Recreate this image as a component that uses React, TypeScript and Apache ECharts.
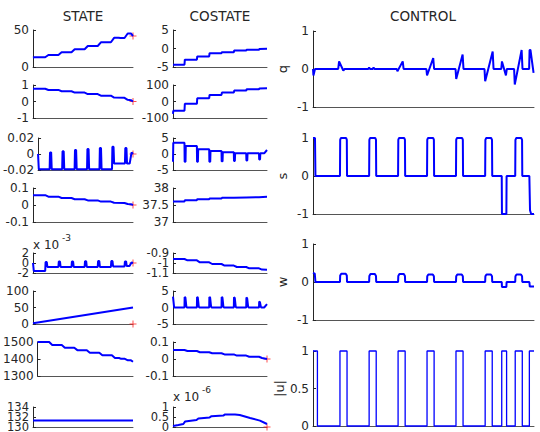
import React, { useEffect, useRef } from "react";
import * as echarts from "echarts";

// Time axis: percent of the horizon (0..100).
const titles = ["STATE", "COSTATE", "CONTROL"];

const state1 = [[0,12.6],[1.2,13.1],[12.2,13.1],[15.4,16.2],[25.4,16.2],[28.6,19.8],[38.5,19.8],[41.7,23.9],[51.6,23.9],[54.8,28.4],[64.7,28.4],[67.9,33.4],[77.9,33.4],[81.1,39.4],[85.4,39.6],[87.6,39.2],[91.5,39.2],[94.7,45.3],[97.9,45.3],[100,41.9]];
const state2 = [[0,0.77],[12.2,0.77],[15.4,0.70],[25.4,0.70],[28.6,0.62],[38.5,0.62],[41.7,0.54],[51.6,0.54],[54.8,0.45],[64.7,0.45],[67.9,0.35],[77.9,0.35],[81.1,0.24],[91.5,0.22],[94.7,0.10],[97.9,0.08],[100,0]];
const state3 = [[0,0],[0.8,-0.019],[12.2,-0.019],[12.6,0.002],[13.8,0.002],[14.4,-0.019],[25.4,-0.019],[25.8,0.0035],[27,0.0035],[27.6,-0.019],[38.5,-0.019],[38.9,0.005],[40.1,0.005],[40.7,-0.019],[51.6,-0.019],[52,0.0063],[53.2,0.0063],[53.8,-0.019],[64.7,-0.019],[65.1,0.0075],[66.3,0.0075],[66.9,-0.019],[77.9,-0.019],[78.3,0.009],[79.5,0.009],[80.1,-0.012],[91.5,-0.012],[91.9,0.0075],[93.1,0.0075],[93.7,-0.012],[96.5,-0.012],[98.5,0.002],[100,0]];
const state4 = [[0,0.058],[12.2,0.058],[15.4,0.049],[25.4,0.049],[28.6,0.041],[38.5,0.041],[41.7,0.034],[51.6,0.034],[54.8,0.027],[64.7,0.027],[67.9,0.020],[77.9,0.020],[81.1,0.013],[91.5,0.012],[94.7,0.006],[97.9,0.005],[100,0]];
// shown in units of 1e-3
const state5 = [[0,0],[0.8,-1.6],[12.2,-1.6],[12.6,0.2],[13.8,0.2],[14.4,-0.8],[25.4,-0.8],[25.8,0.3],[27,0.3],[27.6,-0.8],[38.5,-0.8],[38.9,0.3],[40.1,0.3],[40.7,-0.8],[51.6,-0.8],[52,0.35],[53.2,0.35],[53.8,-0.8],[64.7,-0.8],[65.1,0.4],[66.3,0.4],[66.9,-0.8],[77.9,-0.8],[78.3,0.4],[79.5,0.4],[80.1,-0.7],[91.5,-0.7],[91.9,0.3],[93.1,0.3],[93.7,-0.6],[96.5,-0.6],[98.5,0.1],[100,0]];
const state6 = [[0,2],[100,50]];
const state7 = [[0,1500],[12.2,1500],[15.4,1482],[25.4,1482],[28.6,1466],[38.5,1466],[41.7,1452],[51.6,1452],[54.8,1437],[64.7,1437],[67.9,1422],[77.9,1422],[81.1,1406],[85.4,1406],[87.6,1401],[91.5,1401],[94.7,1392],[97.9,1392],[100,1384]];
const state8 = [[0,131.3],[100,131.3]];

const costate1 = [[0,-4.36],[12.2,-4.36],[12.6,-3.02],[25.4,-3.02],[25.8,-2.14],[38.5,-2.14],[38.9,-1.26],[51.6,-1.26],[52,-0.99],[64.7,-0.99],[65.1,-0.53],[77.9,-0.53],[78.3,-0.35],[91.5,-0.35],[91.9,-0.15],[100,-0.05]];
const costate2 = [[0,-75],[0.3,-56],[12.2,-56],[12.6,-14],[25.4,-14],[25.8,20],[38.5,20],[38.9,40],[51.6,40],[52,54],[64.7,54],[65.1,66],[77.9,66],[78.3,74],[91.5,74],[91.9,79],[100,80]];
const costate3 = [[0,-2.4],[0.3,3.5],[12.2,3.5],[12.4,-2.4],[13.3,-2.4],[13.6,2.5],[25.4,2.5],[25.6,-2.4],[26.5,-2.4],[26.8,1.47],[38.5,1.47],[38.7,-2.4],[39.6,-2.4],[39.9,0.94],[51.6,0.94],[51.8,-2.3],[52.7,-2.3],[53,0.53],[64.7,0.53],[64.9,-2.2],[65.8,-2.2],[66.1,0.22],[77.9,0.22],[78.1,-2.0],[79,-2.0],[79.3,0.2],[91.5,0.2],[91.7,-1.7],[92.6,-1.7],[92.9,0.2],[97,0.2],[100,1.25]];
const costate4 = [[0,37.60],[12.2,37.60],[12.6,37.64],[25.4,37.64],[25.8,37.67],[38.5,37.67],[38.9,37.69],[51.6,37.69],[52,37.71],[64.7,37.71],[65.1,37.72],[77.9,37.72],[78.3,37.73],[91.5,37.73],[91.9,37.74],[100,37.745]];
const costate5 = [[0,-0.96],[12.2,-0.96],[15.4,-0.973],[25.4,-0.973],[28.6,-0.993],[38.5,-0.993],[41.7,-1.01],[51.6,-1.01],[54.8,-1.026],[64.7,-1.026],[67.9,-1.04],[77.9,-1.04],[81.1,-1.053],[91.5,-1.053],[94.7,-1.066],[100,-1.067]];
const costate6 = [[0,3.3],[1.2,0],[12.2,0],[12.4,3.2],[13.2,3.0],[14.2,0.3],[14.8,0],[25.4,0],[25.6,3.2],[26.4,3.0],[27.4,0.3],[28,0],[38.5,0],[38.7,3.2],[39.5,3.0],[40.5,0.3],[41.1,0],[51.6,0],[51.8,3.2],[52.6,3.0],[53.6,0.3],[54.2,0],[64.7,0],[64.9,3.1],[65.7,2.9],[66.7,0.3],[67.3,0],[77.9,0],[78.1,3.0],[78.9,2.8],[79.9,0.3],[80.5,0],[91.5,0],[91.7,1.8],[92.5,1.6],[93.5,0.2],[94.1,0],[97,0],[100,1.0]];
const costate7 = [[0,0.053],[12.2,0.053],[15.4,0.047],[25.4,0.047],[28.6,0.040],[38.5,0.040],[41.7,0.034],[51.6,0.034],[54.8,0.027],[64.7,0.027],[67.9,0.020],[77.9,0.020],[81.1,0.013],[91.5,0.013],[94.7,0.006],[100,0]];
// shown in units of 1e-6
const costate8 = [[0,0.05],[5.7,0.1],[11,0.15],[12.8,0.27],[25,0.35],[27,0.43],[39,0.48],[41,0.54],[53.5,0.57],[55,0.62],[66,0.63],[71,0.6],[82,0.45],[92.5,0.32],[100,0.15]];

const controlQ = [[0,0],[0.2,-0.17],[0.9,0],[11.4,0],[11.8,0.2],[13.7,-0.04],[14.3,0],[25,0],[25.4,0.04],[25.8,0],[27,0],[27.4,0.04],[27.8,0],[37.9,0],[38.2,-0.06],[40.6,0.2],[41,0],[51.3,0],[51.6,-0.17],[54.4,0.29],[54.8,0],[64.5,0],[64.8,-0.26],[67.7,0.38],[68.1,0],[77.6,0],[77.9,-0.32],[81.3,0.46],[81.7,0],[85.2,0],[85.5,0.2],[87.3,-0.17],[87.7,0],[91,0],[91.3,-0.41],[94.4,0.5],[94.8,0],[97.8,0],[98,0.5],[98.4,0.5],[99.8,-0.1]];
const controlS = [[0,1],[0.9,1],[1.1,0],[12.2,0],[12.3,0.95],[12.6,1],[15,1],[15.3,0.95],[15.4,0],[25.4,0],[25.5,0.95],[25.8,1],[28.2,1],[28.5,0.95],[28.6,0],[38.5,0],[38.6,0.95],[38.9,1],[41.3,1],[41.6,0.95],[41.7,0],[51.6,0],[51.7,0.95],[52,1],[54.4,1],[54.7,0.95],[54.8,0],[64.7,0],[64.8,0.95],[65.1,1],[67.5,1],[67.8,0.95],[67.9,0],[77.9,0],[78,0.95],[78.4,1],[80.6,1],[81,0.95],[81.1,0],[85.4,0],[85.5,-1],[87.5,-1],[87.6,0],[91.5,0],[91.6,0.95],[92,1],[94.2,1],[94.6,0.95],[94.7,0],[97.9,0],[98.2,-0.9],[98.7,-1],[100,-1]];
const controlW = [[0,0.24],[0.8,0.22],[1.1,0],[12.2,0],[12.3,0.17],[12.8,0.22],[14.8,0.22],[15.3,0.17],[15.4,0],[25.4,0],[25.5,0.16],[26,0.21],[28,0.21],[28.5,0.16],[28.6,0],[38.5,0],[38.6,0.16],[39.1,0.21],[41.1,0.21],[41.6,0.16],[41.7,0],[51.6,0],[51.7,0.15],[52.2,0.2],[54.2,0.2],[54.7,0.15],[54.8,0],[64.7,0],[64.8,0.15],[65.3,0.2],[67.3,0.2],[67.8,0.15],[67.9,0],[77.9,0],[78,0.15],[78.5,0.2],[80.5,0.2],[81,0.15],[81.1,0],[85.4,0],[85.5,-0.13],[87.5,-0.13],[87.6,0],[91.5,0],[91.6,0.15],[92.1,0.2],[94.1,0.2],[94.6,0.15],[94.7,0],[97.9,0],[98.1,-0.12],[100,-0.12]];
const controlU = [[0,1],[2,1],[2,0],[12.2,0],[12.2,1],[15.4,1],[15.4,0],[25.4,0],[25.4,1],[28.6,1],[28.6,0],[38.5,0],[38.5,1],[41.7,1],[41.7,0],[51.6,0],[51.6,1],[54.8,1],[54.8,0],[64.7,0],[64.7,1],[67.9,1],[67.9,0],[77.9,0],[77.9,1],[81.1,1],[81.1,0],[85.4,0],[85.4,1],[87.6,1],[87.6,0],[91.5,0],[91.5,1],[94.7,1],[94.7,0],[97.9,0],[97.9,1],[100,1]];

// axis ranges [min, max, interval]
const stateRanges = [[0,50,50],[-1,1,1],[-0.02,0.02,0.02],[-0.1,0.1,0.1],[-2,2,2],[0,100,50],[1300,1500,100],[130,134,2]];
const costateRanges = [[-5,5,5],[-100,100,100],[-5,5,5],[37,38,0.5],[-1.1,-0.9,0.1],[-5,5,5],[-0.1,0.1,0.1],[0,1,0.5]];
const controlRanges = [[-1,1,1],[-1,1,1],[-1,1,1],[0,1,0.5]];
// tick labels of the squeezed panels (drawn by hand so that none is dropped)
const stateRow5Ticks = [-2, 0, 2];
const stateRow8Ticks = [130, 132, 134];
const costateRow5Ticks = [-1.1, -1, -0.9];
const costateRow8Ticks = [0, 0.5, 1];
const controlNames = ["q", "s", "w", "|u|"];
// terminal targets (red +) at the final time
const stateTargets = [41.9, 0, 0, 0, 0, 0, null, null];
const costateTargets = [null, null, null, null, null, null, 0, 0];
const exponents = ["-3", "-6"];

const stateSeries = [state1, state2, state3, state4, state5, state6, state7, state8];
const costateSeries = [costate1, costate2, costate3, costate4, costate5, costate6, costate7, costate8];
const controlSeries = [controlQ, controlS, controlW, controlU];

// layout (pixels)
const rowTops = [30, 85, 138, 188, 253, 291, 342, 407];
const rowHeights = [37, 33, 32, 34, 20, 33, 34, 20];
const ctrlTops = [31, 138, 244, 351];
const ctrlHeight = 76;

const FONT = "DejaVu Sans";
const INK = "#262626";
const PLUS = "path://M4.3,0H5.7V4.3H10V5.7H5.7V10H4.3V5.7H0V4.3H4.3Z";

const fmt = (v: number) => String(parseFloat(Number(v).toPrecision(10)));

export default function App() {
  const ref = useRef<HTMLDivElement>(null);
  useEffect(() => {
    const chart = echarts.init(ref.current!, null, { renderer: "svg" });
    const grids: any[] = [];
    const xAxes: any[] = [];
    const yAxes: any[] = [];
    const series: any[] = [];
    const manual: { axis: number; x: number; ticks: number[] }[] = [];

    const addPanel = (left: number, top: number, width: number, height: number, range: number[], data: number[][], lineWidth: number, target: number | null, name?: string, ticks?: number[]) => {
      const i = grids.length;
      grids.push({ left, top, width, height });
      if (ticks) manual.push({ axis: i, x: left - 4, ticks });
      xAxes.push({
        gridIndex: i, type: "value", min: 0, max: 100,
        axisLine: { show: true, onZero: false, lineStyle: { color: "#555", width: 1 } },
        axisTick: { show: false }, axisLabel: { show: false }, splitLine: { show: false },
      });
      yAxes.push({
        gridIndex: i, type: "value", min: range[0], max: range[1], interval: range[2],
        name: name || "", nameLocation: "middle", nameGap: 24, nameRotate: 90,
        nameTextStyle: { fontFamily: FONT, fontSize: 13, color: INK },
        axisLine: { show: true, onZero: false, lineStyle: { color: INK, width: 1 } },
        axisTick: { show: true, inside: true, length: 3, lineStyle: { color: INK } },
        axisLabel: {
          show: !ticks,
          fontFamily: FONT, fontSize: 12, color: INK, margin: 4,
          showMinLabel: true, showMaxLabel: true, formatter: fmt,
        },
        splitLine: { show: false },
      });
      series.push({
        type: "line", xAxisIndex: i, yAxisIndex: i, data, symbol: "none", showSymbol: false,
        clip: false, lineStyle: { color: "#0000ff", width: lineWidth }, silent: true,
      });
      if (target !== null && target !== undefined) {
        series.push({
          type: "scatter", xAxisIndex: i, yAxisIndex: i, data: [[100, target]], symbol: PLUS,
          symbolSize: 7, clip: false, itemStyle: { color: "#ff2020" }, silent: true,
        });
      }
    };

    const stateTicks: any[] = [null, null, null, null, stateRow5Ticks, null, null, stateRow8Ticks];
    const costateTicks: any[] = [null, null, null, null, costateRow5Ticks, null, null, costateRow8Ticks];
    stateSeries.forEach((d, k) => addPanel(33, rowTops[k], 100, rowHeights[k], stateRanges[k], d, 2, stateTargets[k], undefined, stateTicks[k] || undefined));
    costateSeries.forEach((d, k) => addPanel(173, rowTops[k], 94, rowHeights[k], costateRanges[k], d, 2, costateTargets[k], undefined, costateTicks[k] || undefined));
    controlSeries.forEach((d, k) => addPanel(313, ctrlTops[k], 221, ctrlHeight, controlRanges[k], d, k === 3 ? 1.3 : 2, null, controlNames[k]));

    const txt = (x: number, y: number, text: string, size: number, align = "center", lineHeight?: number) => ({
      type: "text", x, y, silent: true,
      style: { text, fontFamily: FONT, fontSize: size, lineHeight: lineHeight || Math.round(size * 1.2), fill: INK, align, verticalAlign: "middle" },
    });

    const graphics: any[] = [
      txt(83, 16, titles[0], 13.5),
      txt(220, 16, titles[1], 13.5),
      txt(423, 16, titles[2], 13.5),
      txt(33, 245, "x 10", 12, "left"),
      txt(62, 238, exponents[0], 9, "left"),
      txt(173, 397, "x 10", 12, "left"),
      txt(202, 390, exponents[1], 9, "left"),
    ];

    chart.setOption({
      animation: false,
      textStyle: { fontFamily: FONT },
      grid: grids, xAxis: xAxes, yAxis: yAxes, series,
      graphic: graphics,
    });

    manual.forEach((m) => {
      m.ticks.forEach((v) => {
        const y = chart.convertToPixel({ yAxisIndex: m.axis } as any, v) as unknown as number;
        graphics.push(txt(m.x, y, fmt(v), 11.5, "right", 9));
      });
    });
    chart.setOption({ graphic: graphics });

    return () => chart.dispose();
  }, []);
  return <div ref={ref} style={{ position: "fixed", left: 0, top: 0, width: 540, height: 432, background: "#fff" }} />;
}
